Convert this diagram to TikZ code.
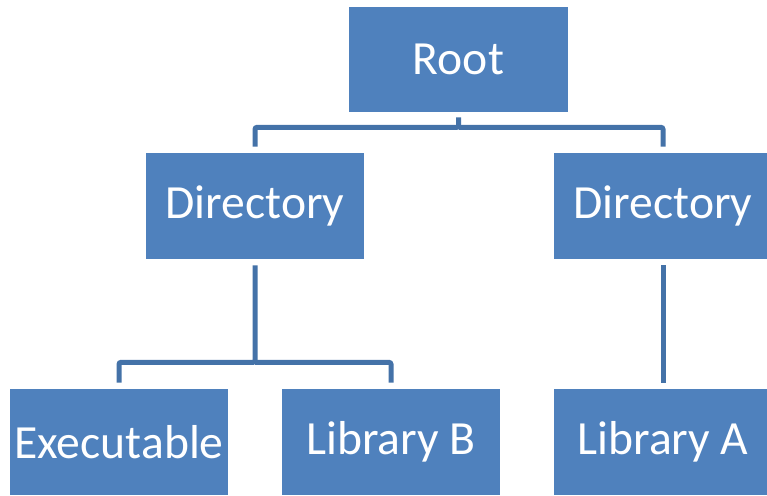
\documentclass[tikz,border=0pt]{standalone}
\usepackage{fontspec}
\setmainfont{Carlito}
\usetikzlibrary{calc}
\definecolor{boxblue}{HTML}{4F81BD}
\definecolor{linkblue}{HTML}{4472A8}
\tikzset{
  item/.style={fill=boxblue,text=white,minimum width=218*0.02cm,minimum height=106*0.02cm,
    inner sep=0pt,font=\fontsize{27.1}{30}\selectfont},
  conn/.style={draw=linkblue,line width=0.1cm,rounded corners=0.04cm}
}
\begin{document}
\begin{tikzpicture}[x=0.02cm,y=-0.02cm]
\useasboundingbox(0,0)rectangle(767,495);
\node[item,minimum width=219*0.02cm,minimum height=105*0.02cm](root)at(458.5,59.5){Root};
\node[item](dirL)at(255,206){Directory};
\node[item](dirR)at(663,206){Directory};
\node[item](exe)at(119,442){Executable};
\node[item](libB)at(391,442){Library B};
\node[item](libA)at(663,442){Library A};
%
\coordinate(top)at($(root.south)+(0,15)$);
\draw[conn]($(root.south)+(0,5)$)--(top)-|($(dirL.north)+(0,-6)$);
\draw[conn](top)-|($(dirR.north)+(0,-6)$);
\coordinate(mid)at($(dirL.south)+(0,103)$);
\draw[conn]($(dirL.south)+(0,6)$)--(mid)-|($(exe.north)+(0,-6)$);
\draw[conn](mid)-|($(libB.north)+(0,-6)$);
\draw[conn]($(dirR.south)+(0,6)$)--($(libA.north)+(0,-6)$);
\end{tikzpicture}
\end{document}
